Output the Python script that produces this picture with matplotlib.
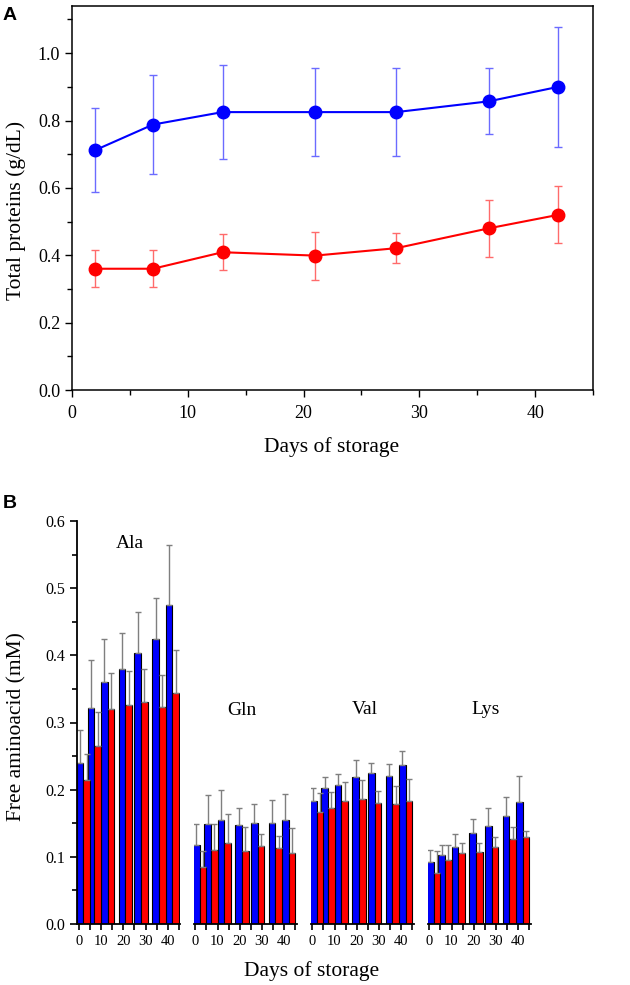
import numpy as np
import matplotlib
matplotlib.use("Agg")
import matplotlib.pyplot as plt
from matplotlib.ticker import MultipleLocator, FormatStrFormatter

plt.rcParams['font.family'] = ['Liberation Serif', 'DejaVu Serif']

# panel A : total proteins
days = [2, 7, 13, 21, 28, 36, 42]
tp_blue = [0.712, 0.788, 0.825, 0.825, 0.825, 0.857, 0.900]
tp_blue_err = [0.125, 0.146, 0.140, 0.130, 0.130, 0.098, 0.178]
tp_red = [0.360, 0.360, 0.409, 0.399, 0.421, 0.480, 0.520]
tp_red_err = [0.055, 0.055, 0.053, 0.071, 0.044, 0.084, 0.085]

# panel B : free aminoacids
amino = ["Ala", "Gln", "Val", "Lys"]
aa_blue = [[0.239, 0.321, 0.361, 0.380, 0.404, 0.424, 0.475],
           [0.118, 0.149, 0.155, 0.148, 0.150, 0.150, 0.155],
           [0.183, 0.202, 0.207, 0.219, 0.225, 0.220, 0.237],
           [0.092, 0.103, 0.114, 0.136, 0.146, 0.161, 0.182]]
aa_blue_err = [[0.050, 0.072, 0.063, 0.053, 0.061, 0.062, 0.090],
               [0.031, 0.043, 0.045, 0.024, 0.029, 0.035, 0.038],
               [0.020, 0.017, 0.016, 0.025, 0.015, 0.018, 0.021],
               [0.018, 0.015, 0.020, 0.021, 0.026, 0.028, 0.038]]
aa_red = [[0.214, 0.265, 0.320, 0.326, 0.331, 0.323, 0.344],
          [0.085, 0.110, 0.120, 0.108, 0.116, 0.113, 0.106],
          [0.167, 0.173, 0.183, 0.186, 0.180, 0.179, 0.183],
          [0.076, 0.096, 0.106, 0.107, 0.115, 0.126, 0.129]]
aa_red_err = [[0.039, 0.050, 0.053, 0.050, 0.048, 0.047, 0.064],
              [0.023, 0.039, 0.044, 0.036, 0.018, 0.018, 0.037],
              [0.028, 0.023, 0.029, 0.028, 0.018, 0.026, 0.033],
              [0.032, 0.022, 0.015, 0.014, 0.014, 0.018, 0.010]]
label_pos = [(23, 0.567), (21, 0.318), (23.5, 0.32), (25.3, 0.32)]

W, H = 630, 985
fig = plt.figure(figsize=(W / 100, H / 100), dpi=100)

def box(l, t, r, b):
    return [l / W, 1 - b / H, (r - l) / W, (b - t) / H]

# ---------- A ----------
ax = fig.add_axes(box(72, 6, 593, 390))
ax.errorbar(days, tp_blue, yerr=tp_blue_err, fmt='none', ecolor='#6b6bff',
            elinewidth=1, capsize=3, capthick=1)
ax.errorbar(days, tp_red, yerr=tp_red_err, fmt='none', ecolor='#ff6b6b',
            elinewidth=1, capsize=3, capthick=1)
ax.plot(days, tp_blue, '-o', color='#0000ff', lw=1.5, ms=9)
ax.plot(days, tp_red, '-o', color='#ff0000', lw=1.5, ms=9)
ax.set_xlim(0, 45)
ax.set_ylim(0, 1.14)
ax.xaxis.set_major_locator(MultipleLocator(10))
ax.xaxis.set_minor_locator(MultipleLocator(5))
ax.yaxis.set_major_locator(MultipleLocator(0.2))
ax.yaxis.set_minor_locator(MultipleLocator(0.1))
ax.yaxis.set_major_formatter(FormatStrFormatter('%.1f'))
ax.tick_params(which='both', direction='out', top=False, right=False,
               labelsize=13, width=1)
ax.tick_params(which='major', length=5)
ax.tick_params(which='minor', length=3.5)
ax.tick_params(axis='x', pad=6)
for s in ax.spines.values():
    s.set_linewidth(1.1)
fig.text(332 / W, 1 - 447 / H, "Days of storage", fontsize=15.5,
         ha='center', va='center')
fig.text(16 / W, 1 - 210 / H, "Total proteins (g/dL)", fontsize=15.5,
         rotation=90, ha='center', va='center')

fig.text(3 / W, 1 - 7 / H, "A", fontsize=14, fontweight='bold',
         family='Liberation Sans', va='top', ha='left')
fig.text(3 / W, 1 - 495 / H, "B", fontsize=14, fontweight='bold',
         family='Liberation Sans', va='top', ha='left')

# ---------- B ----------
lefts = [77, 193.5, 310.5, 427.5]
bw = 3
for i, name in enumerate(amino):
    axb = fig.add_axes(box(lefts[i], 521, lefts[i] + 103, 924))
    xb = np.array(days) - bw / 2
    xr = np.array(days) + bw / 2
    axb.bar(xb, aa_blue[i], width=bw, color='#0000ff', edgecolor='black',
            linewidth=0.8,
            yerr=[np.zeros(7), aa_blue_err[i]],
            error_kw=dict(ecolor='#7f7f7f', elinewidth=1, capsize=2, capthick=1))
    axb.bar(xr, aa_red[i], width=bw, color='#ff0000', edgecolor='black',
            linewidth=0.8,
            yerr=[np.zeros(7), aa_red_err[i]],
            error_kw=dict(ecolor='#7f7f7f', elinewidth=1, capsize=2, capthick=1))
    axb.set_xlim(-0.8, 45.5)
    axb.set_ylim(0, 0.6)
    axb.xaxis.set_major_locator(MultipleLocator(10))
    axb.xaxis.set_minor_locator(MultipleLocator(5))
    axb.tick_params(axis='x', which='both', direction='out', length=4.5,
                    width=1.2, labelsize=10.5)
    axb.spines['top'].set_visible(False)
    axb.spines['right'].set_visible(False)
    axb.spines['bottom'].set_linewidth(1.3)
    axb.text(label_pos[i][0], label_pos[i][1], name, fontsize=14,
             ha='center', va='center')
    if i == 0:
        axb.spines['left'].set_linewidth(1.3)
        axb.yaxis.set_major_locator(MultipleLocator(0.1))
        axb.yaxis.set_minor_locator(MultipleLocator(0.05))
        axb.yaxis.set_major_formatter(FormatStrFormatter('%.1f'))
        axb.tick_params(axis='y', which='both', direction='out', width=1.2,
                        labelsize=11.5)
        axb.tick_params(axis='y', which='major', length=5)
        axb.tick_params(axis='y', which='minor', length=3.5)
    else:
        axb.spines['left'].set_visible(False)
        axb.tick_params(axis='y', which='both', left=False, labelleft=False)

fig.text(17 / W, 1 - 727 / H, "Free aminoacid (mM)", fontsize=15.5,
         rotation=90, ha='center', va='center')
fig.text(312 / W, 1 - 971 / H, "Days of storage", fontsize=15.5,
         ha='center', va='center')

fig.savefig("out.png", dpi=100)
